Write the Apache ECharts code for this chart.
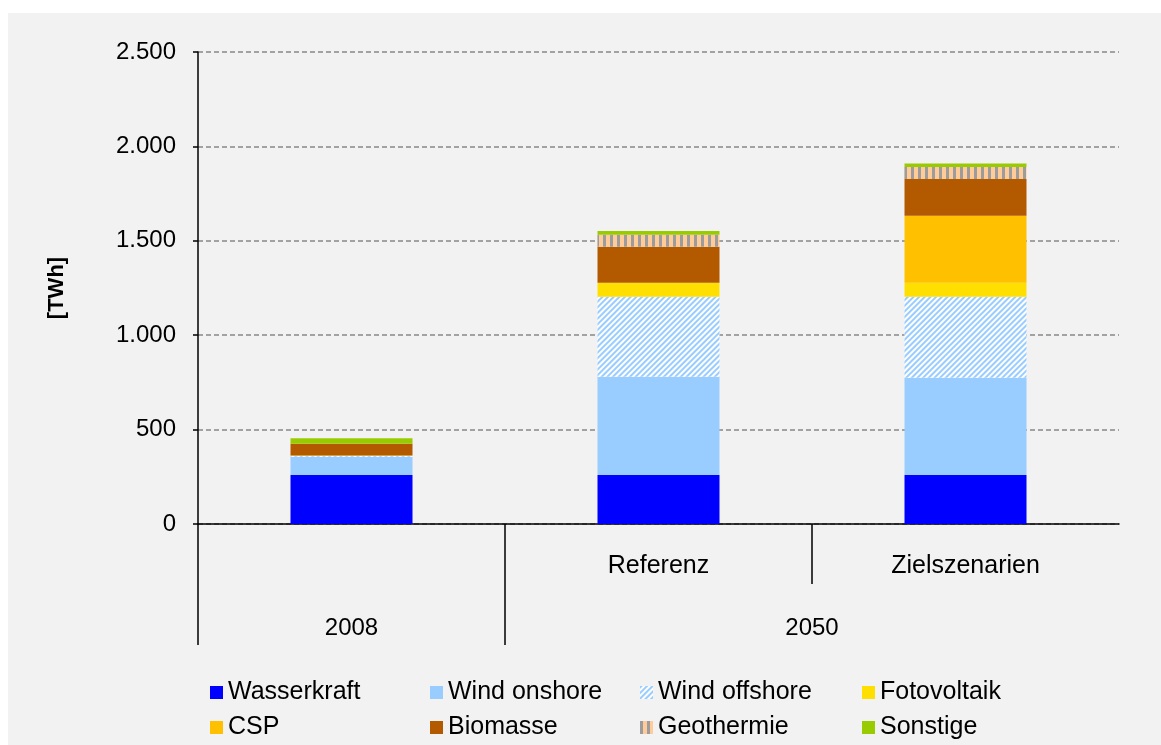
<!DOCTYPE html>
<html>
<head>
<meta charset="utf-8">
<script src="https://cdn.jsdelivr.net/npm/echarts@6/dist/echarts.min.js"></script>
<style>
  html, body { margin: 0; padding: 0; background: #ffffff; }
  #mychart { position: absolute; left: 8px; top: 13px; width: 1153px; height: 732px; background: #f2f2f2; }
</style>
</head>
<body>
<div id="mychart"></div>
<script>
// Kategorien (untere Ebene) und Gruppen (obere Ebene)
const categories = ['', 'Referenz', 'Zielszenarien'];
const groups = ['2008', '2050'];
const groupBounds = [0, 1, 3];   // Grenzen der Gruppen in Kategorie-Einheiten

const seriesNames = ['Wasserkraft', 'Wind onshore', 'Wind offshore', 'Fotovoltaik', 'CSP', 'Biomasse', 'Geothermie', 'Sonstige'];
const wasserkraft = [260, 260, 260];
const windOnshore = [96, 520, 515];
const windOffshore = [4, 424, 429];
const fotovoltaik = [3, 74, 74];
const csp = [0, 0, 355];
const biomasse = [62, 191, 194];
const geothermie = [0, 63, 64];
const sonstige = [29, 20, 19];
const values = [wasserkraft, windOnshore, windOffshore, fotovoltaik, csp, biomasse, geothermie, sonstige];

const yMin = 0, yMax = 2500, yStep = 500;

const font = "'Liberation Sans', Arial, sans-serif";

function dotThousands(v) {
  return String(v).replace(/\B(?=(\d{3})+(?!\d))/g, '.');
}

const styles = {
  'Wasserkraft': { color: '#0000ff' },
  'Wind onshore': { color: '#99ccff' },
  'Wind offshore': { color: '#ffffff', decal: { symbol: 'rect', symbolSize: 1, color: '#99ccff', dashArrayX: [1, 0], dashArrayY: [2, 2], rotation: -Math.PI / 4 } },
  'Fotovoltaik': { color: '#ffdf00' },
  'CSP': { color: '#ffc000' },
  'Biomasse': { color: '#b35900' },
  'Geothermie': { color: '#ffcc99', decal: { symbol: 'rect', symbolSize: 1, color: '#9c9c9c', dashArrayX: [3, 4], dashArrayY: [1, 0], rotation: 0 } },
  'Sonstige': { color: '#99cc00' }
};

const series = seriesNames.map((name, i) => ({
  name: name,
  type: 'bar',
  stack: 'total',
  barWidth: 122,
  xAxisIndex: 0,
  data: values[i],
  itemStyle: styles[name]
}));

// Legende in vier Spalten zu je zwei Zeilen
const legendCols = [
  ['Wasserkraft', 'CSP'],
  ['Wind onshore', 'Biomasse'],
  ['Wind offshore', 'Geothermie'],
  ['Fotovoltaik', 'Sonstige']
];
const legendLeft = [202, 422, 632, 854];

const option = {
  animation: false,
  grid: { left: 190, right: 42, top: 39, bottom: 221 },
  legend: legendCols.map((col, i) => ({
    data: col,
    orient: 'vertical',
    left: legendLeft[i],
    top: 666,
    padding: 0,
    itemGap: 8,
    itemWidth: 13,
    itemHeight: 13,
    icon: 'rect',
    textStyle: { fontFamily: font, fontSize: 25, color: '#000', lineHeight: 27 }
  })),
  xAxis: [
    {
      type: 'category',
      data: categories,
      axisLine: { show: true, lineStyle: { color: '#000', width: 1.5 } },
      axisTick: { show: false },
      axisLabel: { interval: 0, margin: 30, fontFamily: font, fontSize: 25, color: '#000' },
      splitLine: { show: false }
    },
    {
      // obere Ebene: Jahresgruppen mit langen Trennstrichen
      type: 'value',
      min: groupBounds[0],
      max: groupBounds[groupBounds.length - 1],
      position: 'bottom',
      axisLine: { show: false },
      splitLine: { show: false },
      axisTick: { show: true, length: 121, customValues: groupBounds.slice(0, -1), lineStyle: { color: '#000', width: 1.5 } },
      axisLabel: {
        show: true,
        margin: 92,
        fontFamily: font, fontSize: 24, color: '#000',
        customValues: groups.map((g, i) => (groupBounds[i] + groupBounds[i + 1]) / 2),
        formatter: function (v) {
          for (let i = 0; i < groups.length; i++) {
            if (Math.abs(v - (groupBounds[i] + groupBounds[i + 1]) / 2) < 1e-6) return groups[i];
          }
          return '';
        }
      }
    },
    {
      // kurze Trennstriche innerhalb einer Gruppe
      type: 'value',
      min: groupBounds[0],
      max: groupBounds[groupBounds.length - 1],
      position: 'bottom',
      axisLine: { show: false },
      splitLine: { show: false },
      axisLabel: { show: false },
      axisTick: { show: true, length: 60, customValues: [2], lineStyle: { color: '#000', width: 1.5 } }
    }
  ],
  yAxis: {
    type: 'value',
    min: yMin,
    max: yMax,
    interval: yStep,
    name: '[TWh]',
    nameLocation: 'middle',
    nameGap: 130,
    nameRotate: 90,
    nameTextStyle: { fontFamily: font, fontSize: 22, fontWeight: 'bold', color: '#000' },
    axisLine: { show: true, lineStyle: { color: '#000', width: 1.5 } },
    axisTick: { show: true, length: 5, lineStyle: { color: '#000', width: 1.5 } },
    axisLabel: { margin: 22, fontFamily: font, fontSize: 24, color: '#000', formatter: dotThousands },
    splitLine: { show: true, lineStyle: { color: '#888888', width: 1.5, type: [5, 3] } }
  },
  series: series
};

let myChart = echarts.init(document.getElementById('mychart'));
myChart.setOption(option);
window.addEventListener('resize', () => { myChart.resize(); });
</script>
</body>
</html>
